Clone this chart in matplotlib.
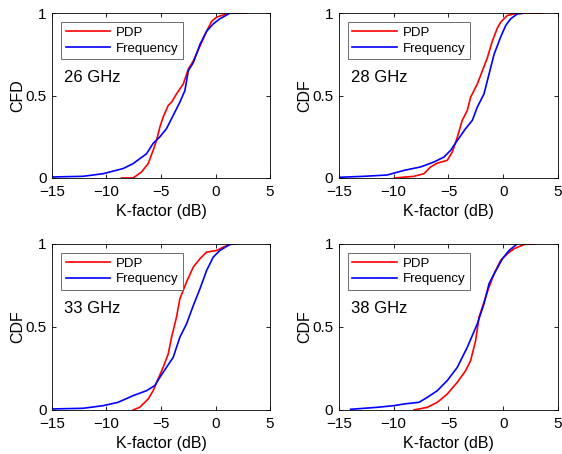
import matplotlib.pyplot as plt

plt.rcParams['font.family'] = ['Liberation Sans', 'DejaVu Sans']

# ---- data (K-factor in dB, CDF value) ----
pdp26_x = [-8.63, -7.56, -6.79, -6.18, -5.72, -5.41, -5.1, -4.8, -4.34, -4.03, -3.58, -2.96,
           -2.5, -2.04, -1.43, -0.82, -0.36, 0.1, 0.56, 1.17, 2.86]
pdp26_y = [0, 0, 0.036, 0.087, 0.168, 0.228, 0.31, 0.37, 0.44, 0.46, 0.51, 0.57,
           0.66, 0.71, 0.80, 0.89, 0.95, 0.976, 0.986, 1.0, 1.0]
frq26_x = [-15, -12.15, -10.3, -8.48, -7.56, -6.33, -5.72, -5.1, -4.49, -3.88, -3.27, -2.81,
           -2.5, -2.04, -1.43, -0.82, -0.21, 0.4, 1.32, 2.24]
frq26_y = [0.006, 0.01, 0.026, 0.057, 0.087, 0.147, 0.21, 0.25, 0.30, 0.38, 0.46, 0.53,
           0.65, 0.70, 0.81, 0.89, 0.935, 0.966, 1.0, 1.0]

pdp28_x = [-9.92, -8.15, -7.24, -6.63, -6.02, -5.11, -4.65, -4.19, -3.74, -3.28, -2.98, -2.37,
           -1.91, -1.45, -1.0, -0.54, -0.24, 0.37, 0.98, 1.9, 3.57]
pdp28_y = [0, 0.01, 0.026, 0.067, 0.09, 0.107, 0.158, 0.248, 0.35, 0.41, 0.49, 0.57,
           0.65, 0.73, 0.83, 0.91, 0.945, 0.986, 0.996, 1.0, 1.0]
frq28_x = [-15, -12.7, -10.6, -9.06, -7.54, -6.32, -5.41, -4.8, -4.19, -3.43, -2.82, -2.37,
           -1.76, -1.3, -0.84, -0.24, 0.22, 0.68, 1.29, 1.9]
frq28_y = [0.004, 0.01, 0.018, 0.046, 0.067, 0.097, 0.127, 0.168, 0.228, 0.30, 0.35, 0.43,
           0.51, 0.63, 0.75, 0.855, 0.925, 0.966, 0.996, 1.0]

pdp33_x = [-7.56, -6.95, -6.18, -5.72, -5.26, -4.8, -4.34, -4.03, -3.58, -3.27, -2.66, -2.04,
           -1.43, -0.82, 0.1, 0.71, 1.32, 1.63]
pdp33_y = [0, 0.016, 0.066, 0.116, 0.187, 0.257, 0.337, 0.438, 0.558, 0.669, 0.77, 0.86,
           0.91, 0.95, 0.96, 0.98, 0.996, 1.0]
frq33_x = [-15, -12.15, -10.3, -8.94, -7.56, -6.33, -5.57, -5.1, -4.49, -3.88, -3.27, -2.66,
           -2.04, -1.43, -0.82, -0.21, 0.4, 1.32, 1.94]
frq33_y = [0.006, 0.01, 0.026, 0.046, 0.086, 0.116, 0.147, 0.197, 0.257, 0.317, 0.438, 0.518,
           0.628, 0.729, 0.839, 0.92, 0.96, 0.996, 1.0]

pdp38_x = [-8.15, -6.93, -6.02, -5.11, -4.19, -3.43, -2.98, -2.52, -2.21, -1.76, -1.3, -0.84,
           -0.24, 0.37, 0.98, 1.9, 2.96]
pdp38_y = [0, 0.016, 0.046, 0.096, 0.167, 0.237, 0.297, 0.418, 0.558, 0.649, 0.739, 0.819,
           0.9, 0.94, 0.97, 0.996, 1.0]
frq38_x = [-13.93, -11.5, -9.98, -9.06, -7.69, -6.93, -6.02, -5.11, -4.19, -3.28, -2.37, -1.76,
           -1.3, -0.84, -0.08, 0.53, 1.29]
frq38_y = [0.004, 0.016, 0.026, 0.036, 0.046, 0.076, 0.116, 0.177, 0.257, 0.378, 0.518, 0.639,
           0.76, 0.819, 0.91, 0.96, 1.0]

panels = [
    ("26 GHz", "CFD", pdp26_x, pdp26_y, frq26_x, frq26_y),
    ("28 GHz", "CDF", pdp28_x, pdp28_y, frq28_x, frq28_y),
    ("33 GHz", "CDF", pdp33_x, pdp33_y, frq33_x, frq33_y),
    ("38 GHz", "CDF", pdp38_x, pdp38_y, frq38_x, frq38_y),
]
xticks = [-15, -10, -5, 0, 5]
yticks = [0, 0.5, 1]
ytick_labels = ["0", "0.5", "1"]

fig = plt.figure(figsize=(5.62, 4.54), dpi=100)
# axes rectangles (left, bottom, width, height) in figure fraction
rects = [(0.0925, 0.608, 0.388, 0.363), (0.603, 0.608, 0.390, 0.363),
         (0.0925, 0.097, 0.388, 0.366), (0.603, 0.097, 0.390, 0.366)]

for rect, (freq, ylab, px, py, fx, fy) in zip(rects, panels):
    ax = fig.add_axes(rect)
    ax.plot(px, py, color='#ff0000', lw=1.2, label='PDP')
    ax.plot(fx, fy, color='#0000ff', lw=1.2, label='Frequency')
    ax.set_xlim(-15, 5)
    ax.set_ylim(0, 1)
    ax.set_xticks(xticks)
    ax.set_yticks(yticks)
    ax.set_yticklabels(ytick_labels)
    ax.tick_params(direction='in', top=True, right=True, labelsize=11, length=3, width=0.6)
    ax.tick_params(axis='x', pad=5)
    ax.tick_params(axis='y', pad=4)
    for s in ax.spines.values():
        s.set_linewidth(0.6)
    ax.set_xlabel("K-factor (dB)", fontsize=11.5, labelpad=3.5)
    ax.set_ylabel(ylab, fontsize=11.5, labelpad=0)
    leg = ax.legend(loc='upper left', bbox_to_anchor=(0.041, 0.945), borderaxespad=0,
                    fontsize=9.5, handlelength=3.4, fancybox=False, framealpha=1,
                    edgecolor='#555555', borderpad=0.35, labelspacing=0.25, handletextpad=0.4)
    leg.get_frame().set_linewidth(0.6)
    ax.text(0.055, 0.61, freq, transform=ax.transAxes, fontsize=12, va='center', ha='left')

fig.savefig("out.png", dpi=100)
